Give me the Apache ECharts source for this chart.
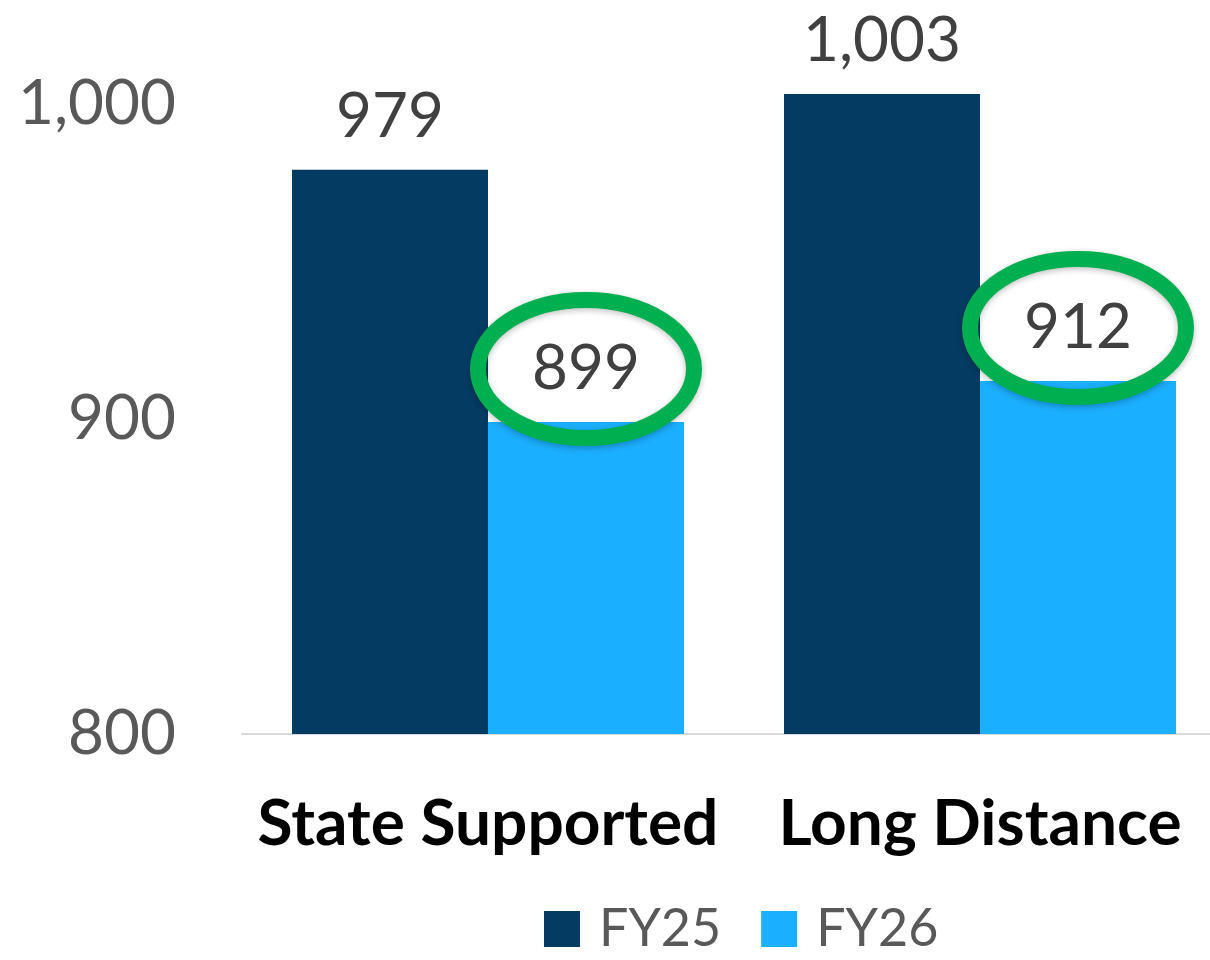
<!DOCTYPE html>
<html><head><meta charset="utf-8">
<script src="https://cdn.jsdelivr.net/npm/echarts@6/dist/echarts.min.js"></script>
<style>html,body{margin:0;padding:0;background:#fff}#c{width:1210px;height:960px}</style>
</head><body><div id="c"></div>
<script>
const categories = ['State Supported', 'Long Distance'];
const seriesNames = ['FY25', 'FY26'];
const fy25 = [979, 1003];
const fy26 = [899, 912];
const yTicks = [800, 900, 1000];
const yAxisTop = 1010;
const circledFY26 = [0, 1];

const FONT = 'Lato';
const fmt = v => Number(v).toLocaleString('en-US');
const chart = echarts.init(document.getElementById('c'));

const labelStyle = {
  show: true, position: 'top', distance: 22,
  fontFamily: FONT, fontSize: 62, color: '#404040',
  formatter: p => fmt(p.value)
};

chart.setOption({
  animation: false,
  backgroundColor: '#fff',
  grid: { left: 242, right: -16, top: 72, bottom: 226, outerBoundsMode: 'none', containLabel: false },
  legend: {
    data: seriesNames, left: 539, bottom: 0,
    itemWidth: 36, itemHeight: 36, itemGap: 40,
    icon: 'rect',
    textStyle: { fontFamily: FONT, fontSize: 52, color: '#595959', padding: [0, 0, 0, 14] }
  },
  xAxis: {
    type: 'category', data: categories,
    axisLine: { lineStyle: { color: '#d9d9d9', width: 2 } },
    axisTick: { show: false },
    axisLabel: { fontFamily: FONT, fontWeight: 'bold', fontSize: 64, color: '#000', margin: 58, interval: 0 }
  },
  yAxis: {
    type: 'value', min: yTicks[0], max: yAxisTop, interval: yTicks[1] - yTicks[0],
    splitLine: { show: false }, axisLine: { show: false }, axisTick: { show: false },
    axisLabel: { fontFamily: FONT, fontSize: 62, color: '#595959', margin: 66,
      formatter: v => yTicks.includes(v) ? fmt(v) : '' }
  },
  series: [
    { name: seriesNames[0], type: 'bar', data: fy25, barWidth: 196, barGap: '0%',
      itemStyle: { color: '#043B63' }, label: labelStyle },
    { name: seriesNames[1], type: 'bar', data: fy26, barWidth: 196, barGap: '0%',
      itemStyle: { color: '#1BAFFF' }, label: labelStyle }
  ]
});

// Green ellipses around the FY26 labels, positioned from the bar layouts
const data = chart.getModel().getSeriesByIndex(1).getData();
const ellipses = circledFY26.map(i => {
  const l = data.getItemLayout(i);
  const cx = l.x + l.width / 2;
  const top = Math.min(l.y, l.y + l.height);
  return {
    type: 'ellipse', z: 100,
    shape: { cx: cx, cy: top - 53, rx: 108, ry: 69 },
    style: { fill: 'none', stroke: '#00B050', lineWidth: 16,
      shadowBlur: 6, shadowColor: 'rgba(0,0,0,0.25)', shadowOffsetY: 2 }
  };
});
chart.setOption({ graphic: ellipses });
</script></body></html>
